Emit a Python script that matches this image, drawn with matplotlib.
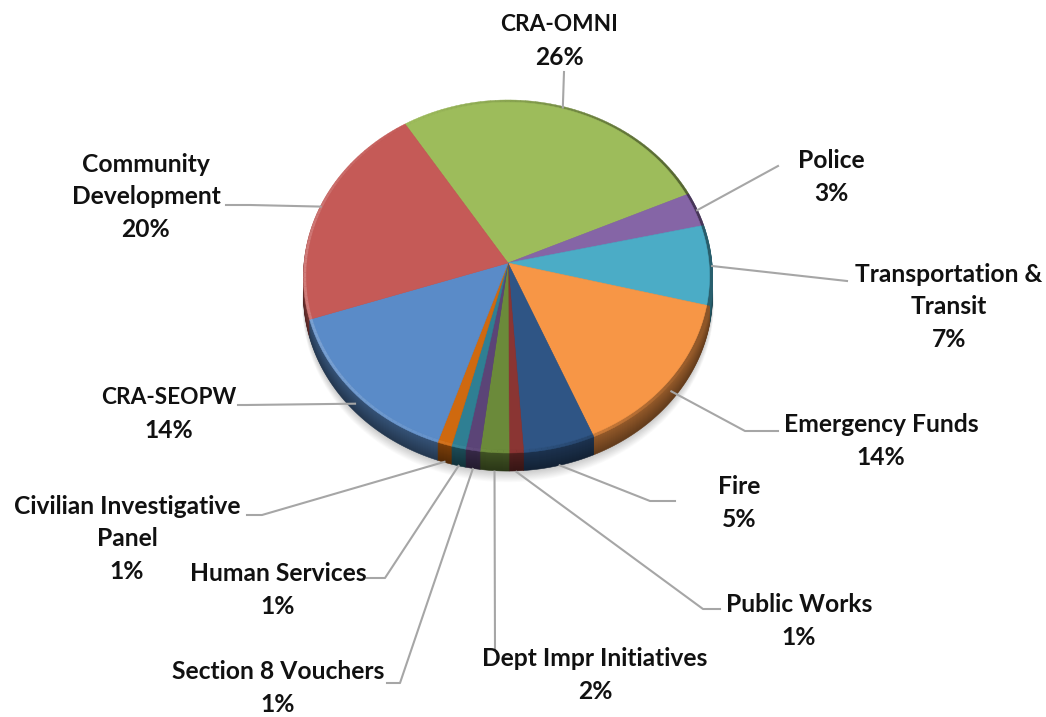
import numpy as np
import matplotlib
matplotlib.use("Agg")
import matplotlib.pyplot as plt
from matplotlib.colors import to_rgb

plt.rcParams['font.family'] = ['Lato', 'DejaVu Sans']

# Slices in clockwise order
names = ["CRA-OMNI", "Police", "Transportation &\nTransit", "Emergency Funds", "Fire",
         "Public Works", "Dept Impr Initiatives", "Section 8 Vouchers", "Human Services",
         "Civilian Investigative\nPanel", "CRA-SEOPW", "Community\nDevelopment"]
shares = [26, 3, 7, 14, 5, 1, 2, 1, 1, 1, 14, 20]
colors = ["#9DBC5B", "#8565A6", "#4BACC6", "#F79646", "#2F5585", "#8A3533",
          "#6B8A3A", "#5B4477", "#2F7F93", "#CF690F", "#5A8BC8", "#C55A57"]

# Label centres and leader elbows, in pixels
label_xy = [(559, 40), (831, 176), (949, 306), (881, 440), (739, 502), (799, 620),
            (595, 674), (278, 687), (278, 589), (127, 538), (169, 413), (146, 196)]
elbows = [[(564, 72)], [(778, 166)], [(847, 281)], [(778, 431), (745, 431)],
          [(675, 501), (650, 501)], [(720, 609), (703, 609)], [(495, 650)],
          [(387, 683), (400, 683)], [(367, 578), (385, 578)], [(247, 515), (262, 515)],
          [(238, 405), (246, 405)], [(226, 205), (250, 205)]]

START = -32.5          # clockwise from twelve o'clock
CX, CY = 508, 263
RX, RY, PERSP = 204, 175.5, 0.0765
DEPTH = 18
LINE_PITCH = 32.5
LABEL_SIZE = 17.7


def project(theta_deg, r=1.0, drop=0.0):
    """Tilted disc to pixels: the near edge appears larger than the far edge."""
    t = np.radians(theta_deg)
    u, v = r * np.sin(t), r * np.cos(t)
    w = 1 + PERSP * v
    return CX + RX * u / w, CY - RY * v / w + drop


def wedge(a, b, r=1.0, drop=0.0):
    th = np.linspace(a, b, max(int(b - a) * 2, 4))
    x, y = project(th, r, drop)
    x0, y0 = project(0.0, 0.0, drop)
    return np.r_[x0, x], np.r_[y0, y]


def shade(col, k):
    c = np.array(to_rgb(col))
    return tuple(np.clip(c * k if k <= 1 else c + (1 - c) * (k - 1), 0, 1))


fig = plt.figure(figsize=(10.46, 7.17), dpi=100)
ax = fig.add_axes([0, 0, 1, 1])
ax.set_xlim(0, 1046)
ax.set_ylim(717, 0)
ax.axis("off")

sweeps = np.array(shares, float) / sum(shares) * 360
edges = START + np.r_[0, np.cumsum(sweeps)]
mids = (edges[:-1] + edges[1:]) / 2

# Soft cast shadow beneath the pie
for d in np.linspace(28, DEPTH, 14):
    x, y = wedge(0, 360, 1.0 + (d - DEPTH) * 0.0006, d)
    ax.fill(x, y, color="#000000", alpha=0.016, lw=0, zorder=1)

# Side wall built up from stacked discs, darker towards the bottom
for d in np.arange(DEPTH, 0, -1):
    f = d / DEPTH
    for a, b, col in zip(edges[:-1], edges[1:], colors):
        x, y = wedge(a, b, 1.0, d)
        c = shade(col, 0.60 - 0.2 * f)
        ax.fill(x, y, facecolor=c, edgecolor=c, lw=0.4, zorder=2)

# Bevelled rim: lit on the left, dark on the right
for a, b, col in zip(edges[:-1], edges[1:], colors):
    n = max(int((b - a) / 1.5), 1)
    steps = np.linspace(a, b, n + 1)
    for s0, s1 in zip(steps[:-1], steps[1:]):
        mid = np.radians((s0 + s1) / 2)
        light = -np.sin(mid)
        k = 1 + 0.2 * light if light > 0 else 1 + 0.45 * light
        k -= 0.12 * max(np.cos(mid), 0)
        th = np.array([s0, s1, s1, s0])
        x, y = project(th, np.array([0.983, 0.983, 1.0, 1.0]))
        c = shade(col, k)
        ax.fill(x, y, facecolor=c, edgecolor=c, lw=0.3, zorder=3)

# Top face
for a, b, col in zip(edges[:-1], edges[1:], colors):
    x, y = wedge(a, b, 0.985)
    ax.fill(x, y, facecolor=col, edgecolor=col, lw=0.4, zorder=4)

# Leader lines and labels, each label line set on its own
for mid, name, share, pos, elbow in zip(mids, names, shares, label_xy, elbows):
    px, py = project(mid, 1.0)
    py = py + DEPTH * max(-np.cos(np.radians(mid)), 0) ** 2 + 1
    pts = list(elbow) + [(float(px), float(py))]
    ax.plot([p[0] for p in pts], [p[1] for p in pts], color="#A6A6A6", lw=1.5,
            solid_joinstyle="round", zorder=5)
    rows = name.split("\n") + [f"{share}%"]
    top = pos[1] + 1 - LINE_PITCH * (len(rows) - 1) / 2
    for i, row in enumerate(rows):
        size = LABEL_SIZE * (0.92 if row.isupper() else 1.0)
        ax.text(pos[0], top + i * LINE_PITCH, row, ha="center", va="center",
                fontsize=size, fontweight="bold", color="#111111", zorder=6)

fig.savefig("out.png", dpi=100, facecolor="white")
